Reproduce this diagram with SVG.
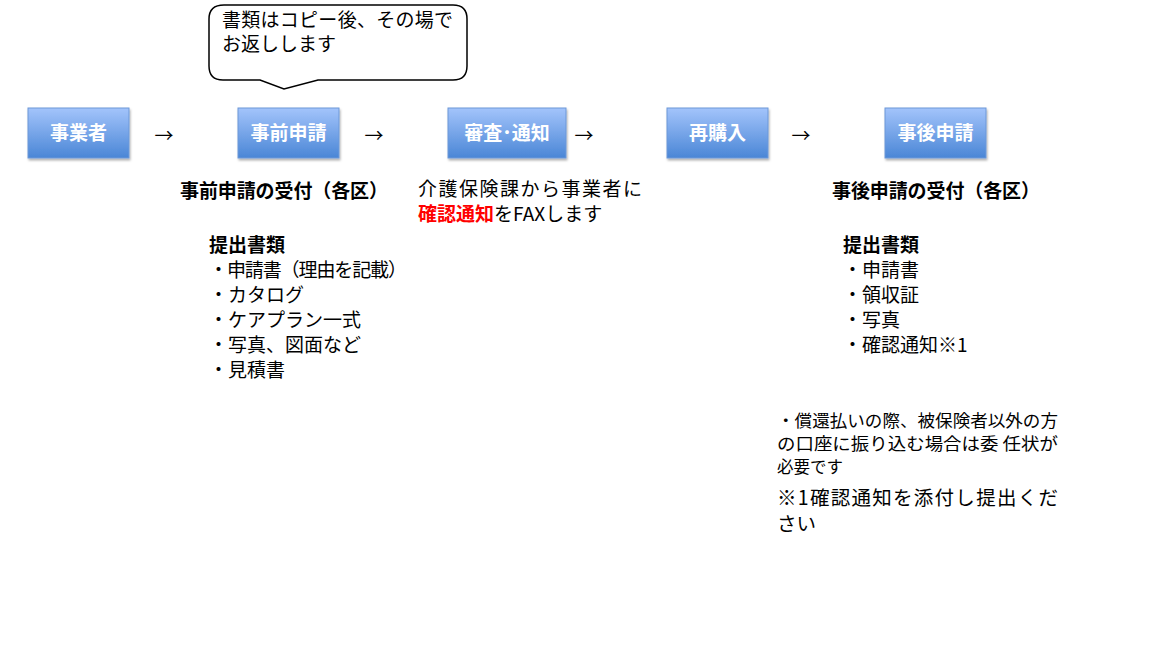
<svg xmlns="http://www.w3.org/2000/svg" width="1152" height="648" viewBox="0 0 1152 648">
<defs>
<linearGradient id="g" x1="0" y1="0" x2="0" y2="1"><stop offset="0" stop-color="#a3c4fb"/><stop offset="1" stop-color="#4a86d6"/></linearGradient>
<filter id="sh" x="-10%" y="-10%" width="130%" height="140%"><feDropShadow dx="1" dy="2" stdDeviation="1.2" flood-color="#000" flood-opacity="0.3"/></filter>
<style>
text{font-family:"Noto Sans CJK JP","Liberation Sans",sans-serif;fill:#000}
.box{fill:url(#g);stroke:#6d98d8;stroke-width:1;filter:url(#sh)}
.bl{fill:#fff;font-size:19px;font-weight:bold;text-anchor:middle}
.t{font-size:19px}
.b{font-weight:bold}
.ar{font-size:19px;text-anchor:middle}
</style>
</defs>
<rect width="1152" height="648" fill="#fff"/>
<g id="callout">
<path d="M224,5 H453 Q467,5 467,19 V66 Q467,80 453,80 H318 L284,89 L260,80 H223 Q209,80 209,66 V19 Q209,5 224,5 Z" fill="#fff" stroke="#000" stroke-width="1.5"/>
<text class="t" x="222" y="27" textLength="231">書類はコピー後、その場で</text>
<text class="t" x="222" y="51">お返しします</text>
</g>
<g id="n1"><rect class="box" x="28" y="108" width="101" height="50"/><text class="bl" x="78.5" y="140">事業者</text></g>
<g id="n2"><rect class="box" x="238" y="108" width="101" height="50"/><text class="bl" x="288.5" y="140">事前申請</text></g>
<g id="n3"><rect class="box" x="448" y="108" width="118" height="50"/><text class="bl" x="507" y="140">審査･通知</text></g>
<g id="n4"><rect class="box" x="667" y="108" width="101" height="50"/><text class="bl" x="717.5" y="140">再購入</text></g>
<g id="n5"><rect class="box" x="885" y="108" width="101" height="50"/><text class="bl" x="935.5" y="140">事後申請</text></g>
<g id="connectors">
<text class="ar" x="164" y="143">→</text>
<text class="ar" x="374" y="143">→</text>
<text class="ar" x="584" y="143">→</text>
<text class="ar" x="801" y="143">→</text>
</g>
<g id="texts">
<text class="t b" x="180" y="198" textLength="208">事前申請の受付（各区）</text>
<text class="t b" x="209" y="252">提出書類</text>
<text class="t" x="209" y="277" textLength="198">・申請書（理由を記載）</text>
<text class="t" x="209" y="302">・カタログ</text>
<text class="t" x="209" y="327">・ケアプラン一式</text>
<text class="t" x="209" y="352">・写真、図面など</text>
<text class="t" x="209" y="377">・見積書</text>
<text class="t" x="418" y="196" textLength="224">介護保険課から事業者に</text>
<text class="t" x="418" y="221"><tspan fill="#ff0000" font-weight="bold">確認通知</tspan>をFAXします</text>
<text class="t b" x="832" y="198" textLength="208">事後申請の受付（各区）</text>
<text class="t b" x="843" y="252">提出書類</text>
<text class="t" x="843" y="277">・申請書</text>
<text class="t" x="843" y="302">・領収証</text>
<text class="t" x="843" y="327">・写真</text>
<text class="t" x="843" y="352">・確認通知※1</text>
<text x="777" y="427" font-size="16.5" textLength="281" lengthAdjust="spacingAndGlyphs">・償還払いの際、被保険者以外の方</text>
<text x="777" y="450" font-size="16.5" textLength="281" lengthAdjust="spacingAndGlyphs">の口座に振り込む場合は委 任状が</text>
<text x="777" y="473" font-size="16.5">必要です</text>
<text x="777" y="505" font-size="19.5" textLength="281">※1確認通知を添付し提出くだ</text>
<text x="777" y="531" font-size="19.5">さい</text>
</g>
</svg>
